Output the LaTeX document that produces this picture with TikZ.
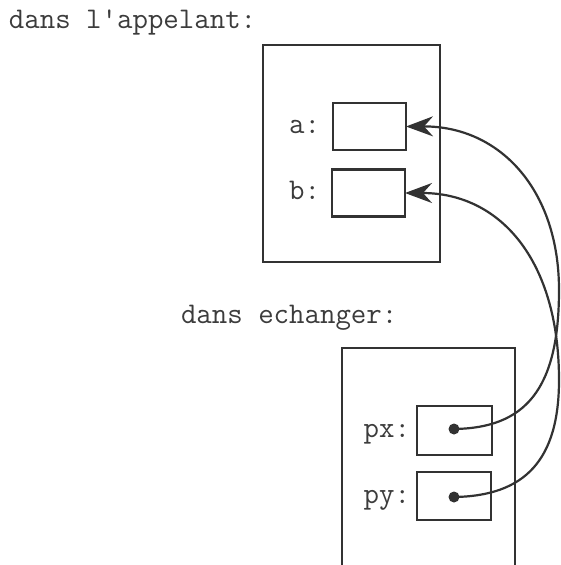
\documentclass[tikz,border=0pt]{standalone}
\usetikzlibrary{arrows.meta}
\definecolor{ink}{RGB}{50,50,50}
\definecolor{txt}{RGB}{60,60,60}
\begin{document}
\begin{tikzpicture}[x=1pt,y=-1pt,
  every node/.style={inner sep=0pt,outer sep=0pt},
  lbl/.style={font=\ttfamily\fontsize{30}{30}\selectfont, text=txt},
  frame/.style={draw=ink, line width=2.4pt, rectangle},
  cell/.style={draw=ink, line width=2.4pt, rectangle, minimum width=73pt, minimum height=47pt},
  link/.style={draw=ink, line width=2.2pt, -{Stealth[length=27pt,width=20pt,inset=9pt]}},
  dot/.style={circle, fill=ink, minimum size=11pt}]
\useasboundingbox (0,0) rectangle (561,565);
\fill[white] (0,0) rectangle (561,565);
% titles
\node[lbl, anchor=base west] (t1) at (9,28) {dans l'appelant:};
\node[lbl, anchor=base west] (t2) at (181,323) {dans echanger:};
% upper frame
\node[frame, minimum width=177pt, minimum height=217pt] (up) at (351.5,153.5) {};
\node[cell] (a) at (369.5,126.5) {};
\node[cell] (b) at (368.5,193) {};
\node[lbl, anchor=base east] (la) at (320,133) {a:};
\node[lbl, anchor=base east] (lb) at (320,199) {b:};
% lower frame (open at bottom)
\coordinate (lo1) at (342,568);
\coordinate (lo2) at (342,348);
\coordinate (lo3) at (515,348);
\coordinate (lo4) at (515,568);
\draw[ink, line width=2.4pt] (lo1) -- (lo2) -- (lo3) -- (lo4);
\node[cell, minimum width=75pt, minimum height=49pt] (px) at (454.5,430.5) {};
\node[cell, minimum width=74pt, minimum height=48pt] (py) at (454,496) {};
\node[lbl, anchor=base east] (lpx) at (410,437) {px:};
\node[lbl, anchor=base east] (lpy) at (410,503) {py:};
\node[dot] (dx) at (454,429) {};
\node[dot] (dy) at (454,497) {};
% connectors
\draw[link] (dx.center) .. controls (525,428) and (559,390) .. (559,290)
  .. controls (559,190) and (500,126) .. (a.east);
\draw[link] (dy.center) .. controls (525,496) and (559,460) .. (559,380)
  .. controls (559,260) and (500,193) .. (b.east);
\end{tikzpicture}
\end{document}
